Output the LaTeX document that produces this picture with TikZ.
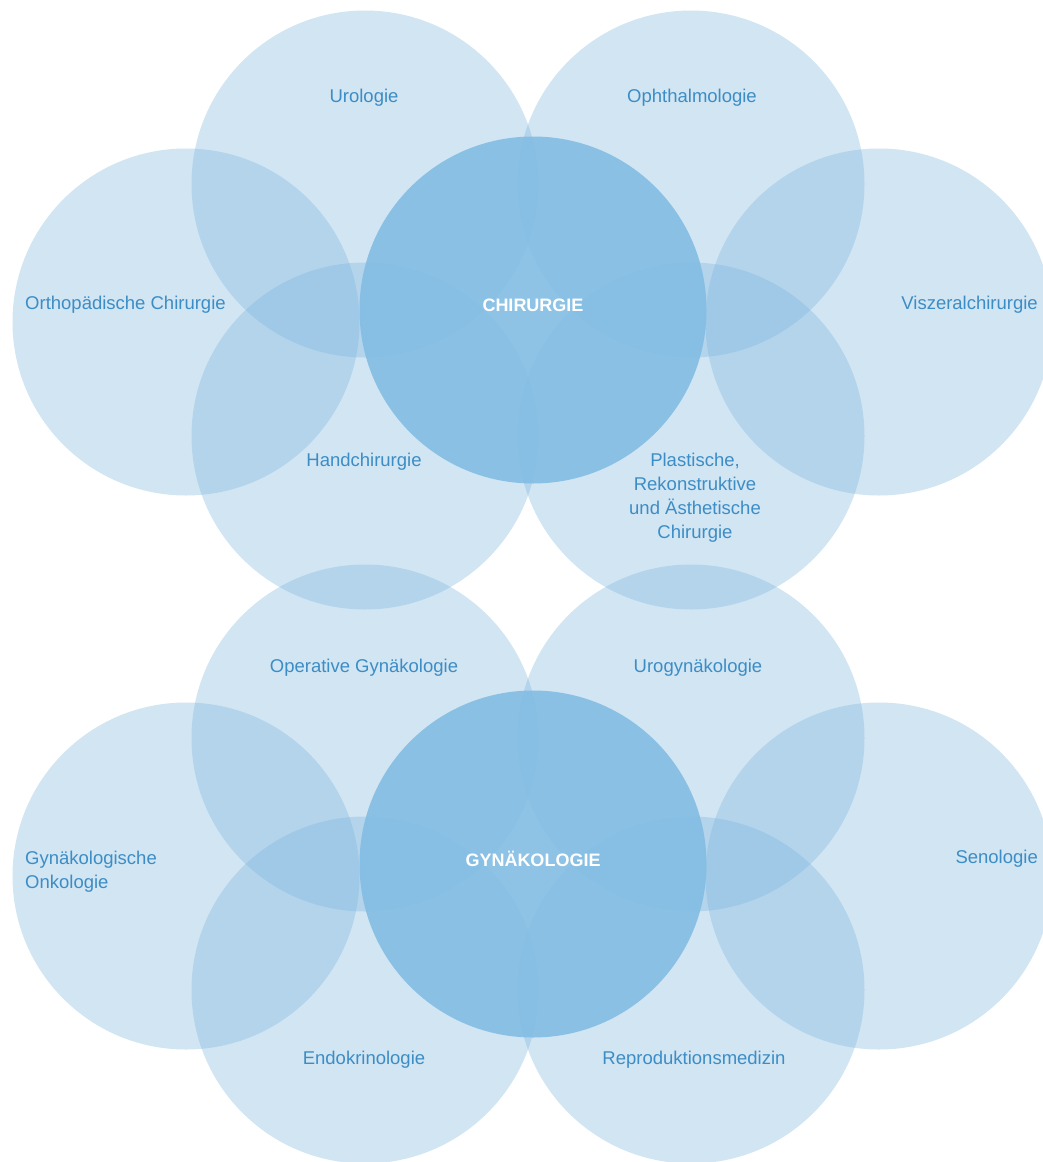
\documentclass[tikz,border=0pt]{standalone}
\usepackage{fontspec}
\setmainfont{Liberation Sans}
\definecolor{cbase}{RGB}{123,180,220}
\definecolor{ccenter}{RGB}{132,190,228}
\definecolor{ctext}{RGB}{60,141,197}
\begin{document}
\begin{tikzpicture}[x=1pt,y=-1pt,
  outer/.style={circle,fill=cbase,fill opacity=0.35,minimum size=347pt,inner sep=0pt},
  inner/.style={circle,fill=ccenter,fill opacity=0.92,minimum size=347pt,inner sep=0pt},
  lbl/.style={text=ctext,font=\fontsize{18.5}{24}\selectfont,inner sep=0pt,align=center},
  mainlbl/.style={text=white,font=\fontsize{18}{24}\selectfont\bfseries,inner sep=0pt}]
\useasboundingbox (0,0) rectangle (1043,1162);
% top group
\node[outer] (uro) at (365,184) {};
\node[outer] (oph) at (691,184) {};
\node[outer] (ortho) at (186,322) {};
\node[outer] (visz) at (879,322) {};
\node[outer] (hand) at (365,436) {};
\node[outer] (plast) at (691,436) {};
\node[inner] (chir) at (533,310) {};
% bottom group
\node[outer] (opgyn) at (365,738) {};
\node[outer] (urogyn) at (691,738) {};
\node[outer] (onko) at (186,876) {};
\node[outer] (seno) at (879,876) {};
\node[outer] (endo) at (365,990) {};
\node[outer] (repro) at (691,990) {};
\node[inner] (gyn) at (533,864) {};
% labels
\node[lbl] (turo) at (364,98) {Urologie};
\node[lbl] (toph) at (692,98) {Ophthalmologie};
\node[lbl,anchor=west] (tortho) at (25,305) {Orthopädische Chirurgie};
\node[mainlbl] (tchir) at (533,305) {CHIRURGIE};
\node[lbl,anchor=east] (tvisz) at (1038,305) {Viszeralchirurgie};
\node[lbl] (thand) at (364,462) {Handchirurgie};
\node[lbl] (tplast) at (695,498) {Plastische,\\Rekonstruktive\\und Ästhetische\\Chirurgie};
\node[lbl] (topgyn) at (364,668) {Operative Gynäkologie};
\node[lbl] (turogyn) at (698,668) {Urogynäkologie};
\node[lbl,anchor=west,align=left] (tonko) at (25,872) {Gynäkologische\\Onkologie};
\node[mainlbl] (tgyn) at (533,859) {GYNÄKOLOGIE};
\node[lbl,anchor=east] (tseno) at (1038,859) {Senologie};
\node[lbl] (tendo) at (364,1060) {Endokrinologie};
\node[lbl] (trepro) at (694,1060) {Reproduktionsmedizin};
\end{tikzpicture}
\end{document}
